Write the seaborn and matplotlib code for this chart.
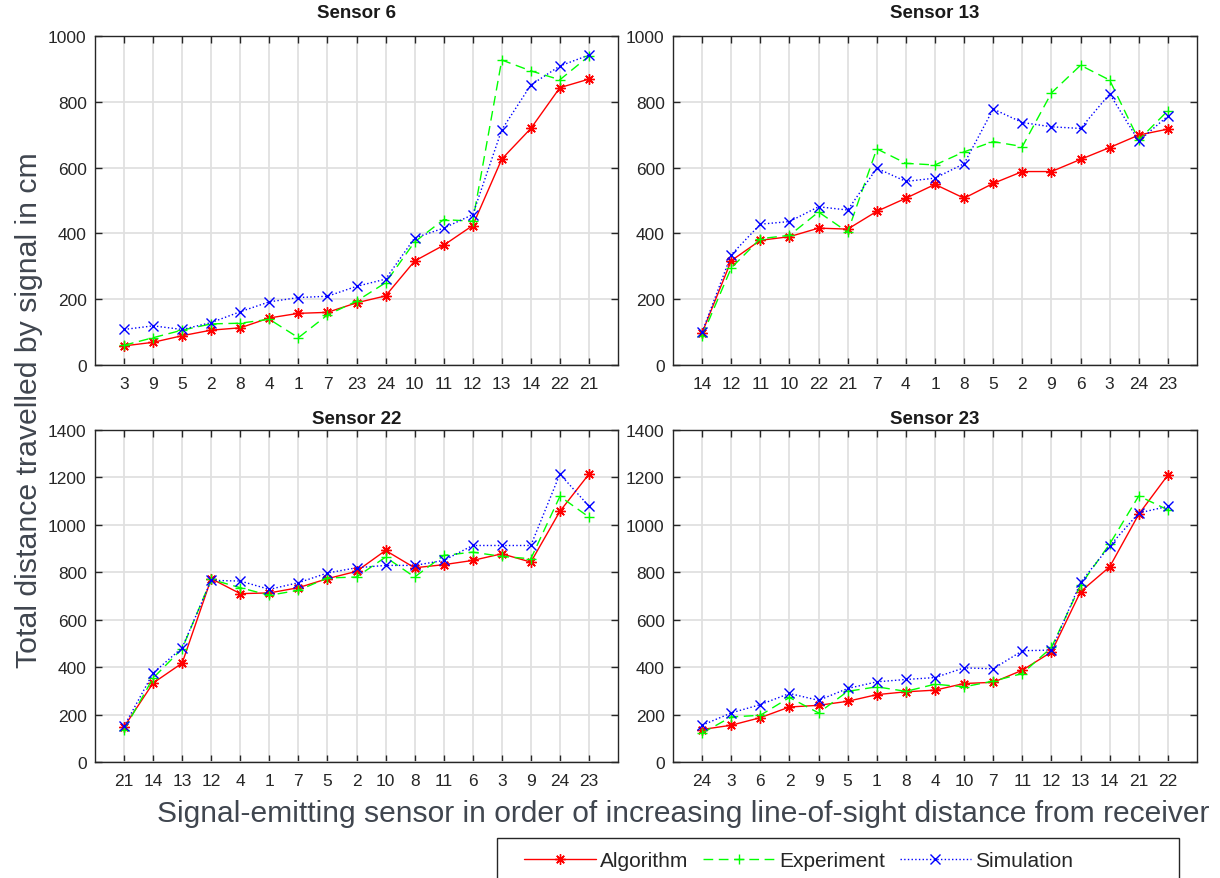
import numpy as np
import pandas as pd
import matplotlib.pyplot as plt
import seaborn as sns
from matplotlib.patches import Rectangle

# Urutan sensor pemancar (jarak line-of-sight naik) untuk tiap penerima
label_s6 = [3, 9, 5, 2, 8, 4, 1, 7, 23, 24, 10, 11, 12, 13, 14, 22, 21]
alg_s6 = [58, 69, 89, 106, 113, 143, 157, 160, 189, 210, 316, 364, 424, 626, 719, 843, 869]
exp_s6 = [60, 83, 106, 125, 127, 139, 83, 152, 194, 250, 374, 442, 437, 927, 894, 867, 939]
sim_s6 = [108, 119, 108, 129, 162, 192, 205, 209, 239, 261, 386, 416, 457, 715, 851, 909, 942]

label_s13 = [14, 12, 11, 10, 22, 21, 7, 4, 1, 8, 5, 2, 9, 6, 3, 24, 23]
alg_s13 = [98, 317, 379, 390, 416, 413, 467, 507, 549, 507, 552, 588, 588, 625, 661, 699, 717]
exp_s13 = [88, 295, 384, 394, 465, 404, 657, 613, 608, 648, 679, 664, 827, 911, 866, 684, 773]
sim_s13 = [100, 335, 428, 436, 481, 471, 598, 558, 568, 612, 778, 737, 724, 719, 824, 681, 757]

label_s22 = [21, 14, 13, 12, 4, 1, 7, 5, 2, 10, 8, 11, 6, 3, 9, 24, 23]
alg_s22 = [148, 333, 417, 773, 710, 713, 735, 773, 804, 892, 819, 832, 850, 878, 843, 1057, 1214]
exp_s22 = [136, 354, 478, 770, 735, 703, 724, 776, 780, 864, 780, 871, 885, 867, 857, 1120, 1033]
sim_s22 = [150, 375, 482, 766, 763, 728, 756, 797, 819, 829, 829, 850, 913, 913, 913, 1214, 1079]

label_s23 = [24, 3, 6, 2, 9, 5, 1, 8, 4, 10, 7, 11, 12, 13, 14, 21, 22]
alg_s23 = [137, 155, 187, 232, 239, 256, 284, 296, 303, 331, 336, 387, 464, 718, 823, 1045, 1210]
exp_s23 = [122, 190, 197, 272, 207, 298, 317, 298, 328, 317, 341, 373, 483, 746, 919, 1122, 1063]
sim_s23 = [155, 207, 242, 289, 260, 310, 338, 348, 356, 397, 393, 469, 472, 757, 911, 1050, 1078]

judul = ["Sensor 6", "Sensor 13", "Sensor 22", "Sensor 23"]

sns.set_style("ticks")
plt.rcParams['font.family'] = ['Liberation Sans', 'DejaVu Sans']

fig = plt.figure(figsize=(12.2, 8.79), dpi=100)
W, H = 1220, 879
posisi = [(95, 37, 523, 329), (673, 37, 524, 329), (95, 431, 523, 332), (673, 431, 524, 332)]
jarak_judul = [14, 14, 5, 5]

data_sensor = [
    (label_s6, alg_s6, exp_s6, sim_s6, 1000),
    (label_s13, alg_s13, exp_s13, sim_s13, 1000),
    (label_s22, alg_s22, exp_s22, sim_s22, 1400),
    (label_s23, alg_s23, exp_s23, sim_s23, 1400),
]

gaya = [
    ("Algorithm", "#ff0000", "-", (8, 2, 0)),
    ("Experiment", "#00ff00", (0, (7, 4)), "+"),
    ("Simulation", "#0000ff", ":", "x"),
]

warna_teks = "#262626"
axes = []
for i, (labels, alg, eks, sim, ymax) in enumerate(data_sensor):
    x0, y0, w, h = posisi[i]
    ax = fig.add_axes([x0 / W, 1 - (y0 + h) / H, w / W, h / H])
    axes.append(ax)
    pos = np.arange(1, len(labels) + 1)
    for (nama, warna, ls, mk), nilai in zip(gaya, [alg, eks, sim]):
        sns.lineplot(x=pos, y=nilai, ax=ax, color=warna, linestyle=ls, marker=mk,
                     markersize=7.5, markeredgewidth=1, markeredgecolor=warna,
                     linewidth=1, label=nama, errorbar=None, sort=False)
    ax.get_legend().remove()
    ax.set_xlim(0, len(labels) + 1)
    ax.set_ylim(0, ymax)
    ax.set_xticks(pos)
    ax.set_xticklabels([str(v) for v in labels])
    ax.set_yticks(np.arange(0, ymax + 1, 200))
    ax.grid(True, color="#e0e0e0", linewidth=1.3)
    ax.set_axisbelow(True)
    ax.tick_params(direction="in", top=True, right=True, length=5, width=1,
                   color=warna_teks, labelcolor=warna_teks, labelsize=12.5)
    ax.tick_params(axis="x", pad=8)
    ax.tick_params(axis="y", pad=6)
    for sp in ax.spines.values():
        sp.set_color(warna_teks)
        sp.set_linewidth(1)
    ax.set_title(judul[i], fontsize=13.5, fontweight="bold", color="#1a1a1a",
                 pad=jarak_judul[i])
    ax.set_xlabel("")
    ax.set_ylabel("")

warna_label = "#40464f"
fig.text(683 / W, 1 - 814 / H,
         "Signal-emitting sensor in order of increasing line-of-sight distance from receiver",
         ha="center", va="center", fontsize=21.6, color=warna_label)
fig.text(29 / W, 1 - 410 / H, "Total distance travelled by signal in cm",
         ha="center", va="center", rotation=90, fontsize=21.8, color=warna_label)

handles, labels = axes[0].get_legend_handles_labels()
fig.legend(handles, labels, loc="center left", bbox_to_anchor=(524 / W, 1 - 862 / H),
           ncol=3, frameon=False, fontsize=15, handlelength=3.45,
           handletextpad=0.2, columnspacing=0.7, borderpad=0, borderaxespad=0)
fig.add_artist(Rectangle((497 / W, 1 - 890 / H), (1179 - 497) / W, 51 / H,
                         transform=fig.transFigure, fill=False,
                         edgecolor=warna_teks, linewidth=1))

plt.savefig("out.png", dpi=100)
